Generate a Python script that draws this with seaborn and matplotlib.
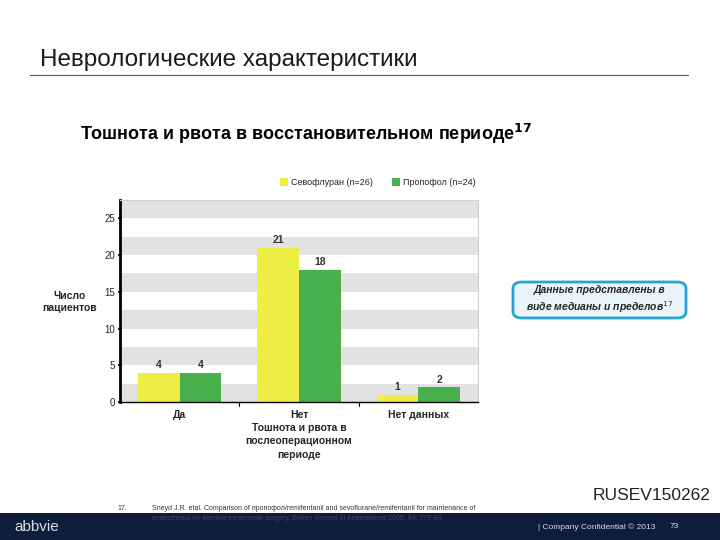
import matplotlib
matplotlib.use('Agg')
import matplotlib.pyplot as plt
import seaborn as sns
import pandas as pd
from matplotlib.patches import FancyBboxPatch, Rectangle

# data
categories = ['Да', 'Нет', 'Нет данных']
groups = ['Севофлуран (n=26)', 'Пропофол (n=24)']
sevo_counts = [4, 21, 1]
propo_counts = [4, 18, 2]
y_ticks = [0, 5, 10, 15, 20, 25]

df = pd.DataFrame({
    'category': categories * 2,
    'group': [groups[0]] * 3 + [groups[1]] * 3,
    'count': sevo_counts + propo_counts,
})

sns.set_style('white')
plt.rcParams['font.family'] = ['Liberation Sans', 'DejaVu Sans']

fig = plt.figure(figsize=(7.2, 5.4), dpi=100)
W, H = 720, 540

def fx(px):
    return px / W

def fy(py):
    return 1 - py / H

# header
fig.text(fx(40), fy(60), 'Неврологические характеристики', fontsize=17.5,
         color='#1a1a1a', va='center', ha='left')
fig.add_artist(plt.Line2D([fx(30), fx(688)], [fy(75), fy(75)], color='#555555', lw=0.8))
fig.text(fx(80), fy(134), 'Тошнота и рвота в восстановительном периоде$^{\\mathbf{17}}$',
         fontsize=13, fontweight='bold', va='center', ha='left', color='black')

# chart
ax = fig.add_axes([fx(120), fy(402), (478 - 120) / W, (402 - 200) / H])
for lo in [0, 5, 10, 15, 20, 25]:
    ax.axhspan(lo, lo + 2.5, color='#e2e2e2', zorder=0, lw=0)

sns.barplot(data=df, x='category', y='count', hue='group', order=categories,
            hue_order=groups, palette=['#eeee44', '#48b04c'], width=0.7,
            saturation=1, linewidth=0, edgecolor='none', ax=ax, zorder=2)
for cont in ax.containers:
    ax.bar_label(cont, fontsize=7.5, fontweight='bold', color='#333333', padding=2)

ax.set_ylim(0, 27.5)
ax.set_xlim(-0.5, 2.5)
ax.set_yticks(y_ticks)
ax.set_xticks([0, 1, 2])
ax.set_xticklabels(categories, fontsize=7.5, fontweight='bold')
ax.tick_params(axis='y', labelsize=7, direction='inout', length=3, width=1.5, left=True, pad=2)
ax.tick_params(axis='x', length=0, pad=6)
ax.set_xlabel('Тошнота и рвота в\nпослеоперационном\nпериоде', fontsize=7.5,
              fontweight='bold', labelpad=2, linespacing=1.4)
ax.set_ylabel('')
ax.spines['left'].set_linewidth(2)
ax.spines['left'].set_color('black')
ax.spines['bottom'].set_color('black')
ax.spines['bottom'].set_linewidth(1)
for s in ['top', 'right']:
    ax.spines[s].set_color('#d0d0d0')
    ax.spines[s].set_linewidth(0.8)
for xb in [0.5, 1.5]:
    ax.plot([xb, xb], [0, -0.5], color='black', lw=0.8, clip_on=False)

ax.legend(loc='center', bbox_to_anchor=(0.72, 1.085), ncol=2, frameon=False,
          fontsize=6.5, handlelength=0.9, handleheight=0.9, handletextpad=0.3,
          columnspacing=2.2)

fig.text(fx(70), fy(302), 'Число\nпациентов', fontsize=7.5, fontweight='bold',
         ha='center', va='center', linespacing=1.2)

# note box
box = FancyBboxPatch((fx(513), fy(318)), fx(686 - 513), (318 - 282) / H,
                     boxstyle='round,pad=0,rounding_size=0.012',
                     transform=fig.transFigure, facecolor='#eaf5fb',
                     edgecolor='#2aa3d3', lw=2)
fig.add_artist(box)
fig.text(fx(600), fy(300), 'Данные представлены в\nвиде медианы и пределов$^{17}$',
         fontsize=7.5, fontweight='bold', style='italic', ha='center', va='center',
         linespacing=1.3)

# footer
fig.text(fx(710), fy(496), 'RUSEV150262', fontsize=12.5, ha='right', va='center',
         color='#222222')
fig.add_artist(Rectangle((0, 0), 1, 27 / H, transform=fig.transFigure,
                         facecolor='#0f1d3c', edgecolor='none'))
fig.text(fx(117), fy(508), '17.', fontsize=5, va='center', color='#333333')
fig.text(fx(152), fy(508), 'Sneyd J.R. etal. Comparison of пропофол/remifentanil and sevoflurane/remifentanil for maintenance of',
         fontsize=5, va='center', color='#333333')
fig.text(fx(152), fy(519), 'anaesthesia for elective intracranial surgery. British Journal of Anaesthesia 2005; 94: 778-83.',
         fontsize=5, va='center', color='#3a4660')
fig.text(fx(14), fy(527), 'abbvie', fontsize=11, va='center', color='#d8dce6')
fig.text(fx(538), fy(527), '| Company Confidential © 2013', fontsize=6, va='center',
         color='#d8dce6')
fig.text(fx(670), fy(527), '73', fontsize=6, va='center', color='#d8dce6')

fig.savefig('out.png', dpi=100)
